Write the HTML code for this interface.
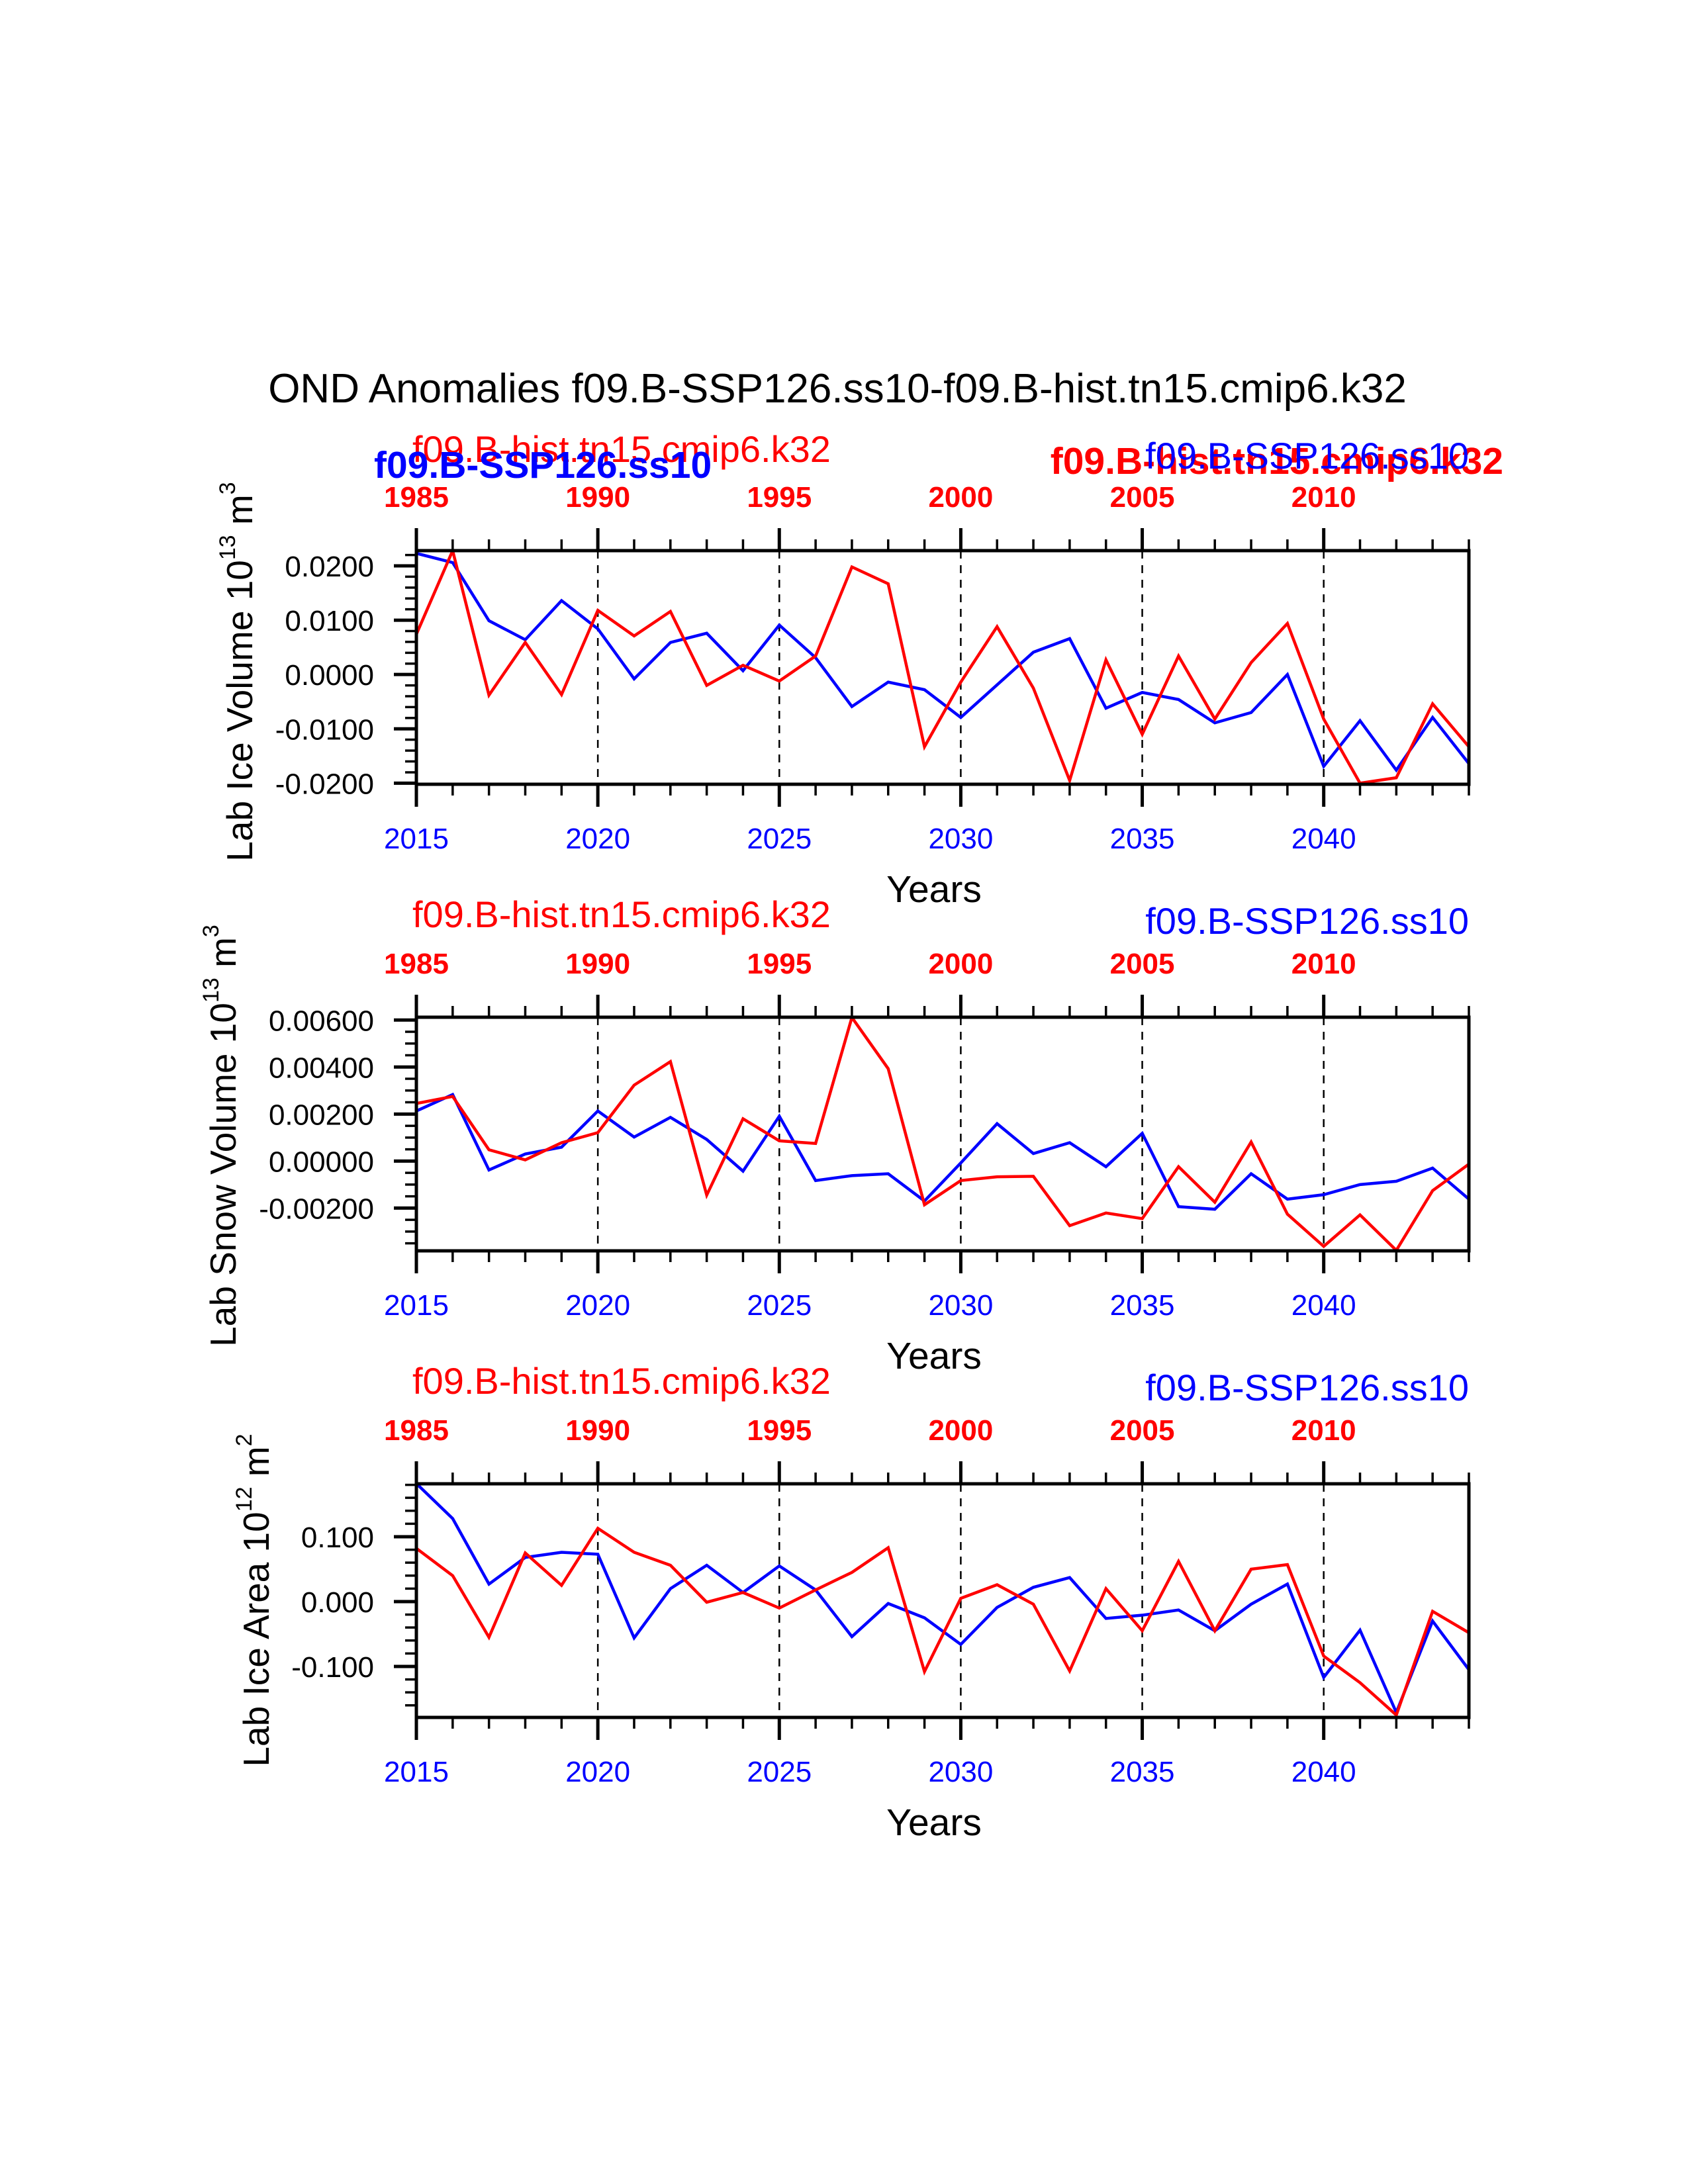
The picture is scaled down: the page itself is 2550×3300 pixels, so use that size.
<!DOCTYPE html>
<html><head><meta charset="utf-8"><style>
html,body{margin:0;padding:0;background:#fff}
svg{display:block;font-family:"Liberation Sans",sans-serif}
</style></head><body>
<svg id="chart" width="2550" height="3300" viewBox="0 0 2550 3300" xmlns="http://www.w3.org/2000/svg">
<text x="1265" y="608" font-size="62" text-anchor="middle">OND Anomalies f09.B-SSP126.ss10-f09.B-hist.tn15.cmip6.k32</text>
<text x="623" y="698" font-size="56" fill="#ff0000">f09.B-hist.tn15.cmip6.k32</text>
<text x="565" y="722" font-size="57" font-weight="bold" fill="#0000ff">f09.B-SSP126.ss10</text>
<text x="2271" y="716" font-size="57" font-weight="bold" fill="#ff0000" text-anchor="end">f09.B-hist.tn15.cmip6.k32</text>
<text x="2219" y="708" font-size="56" fill="#0000ff" text-anchor="end">f09.B-SSP126.ss10</text>
<g id="panels"></g>
</svg>
<script>
const years = [2015,2016,2017,2018,2019,2020,2021,2022,2023,2024,2025,2026,2027,2028,2029,2030,2031,2032,2033,2034,2035,2036,2037,2038,2039,2040,2041,2042,2043,2044];
const bottomTickLabels = ["2015","2020","2025","2030","2035","2040"];
const topTickLabels = ["1985","1990","1995","2000","2005","2010"];
const iceVolBlue = [0.0223,0.0206,0.0099,0.0064,0.0136,0.0084,-0.0008,0.0059,0.0076,0.0007,0.0091,0.0031,-0.0059,-0.0014,-0.0028,-0.0079,-0.0019,0.0041,0.0066,-0.0062,-0.0033,-0.0046,-0.0089,-0.0070,0.0000,-0.0169,-0.0085,-0.0176,-0.0079,-0.0164];
const iceVolRed = [0.0074,0.0228,-0.0038,0.0059,-0.0037,0.0118,0.0071,0.0116,-0.0020,0.0017,-0.0012,0.0034,0.0198,0.0167,-0.0133,-0.0014,0.0088,-0.0025,-0.0195,0.0027,-0.0110,0.0034,-0.0082,0.0022,0.0094,-0.0082,-0.0200,-0.0190,-0.0054,-0.0133];
const snowBlue = [0.00213,0.00283,-0.00038,0.0003,0.00059,0.00213,0.00102,0.00186,0.00092,-0.00043,0.00191,-0.00083,-0.00062,-0.00054,-0.0017,-0.00008,0.00159,0.00032,0.00078,-0.00024,0.00118,-0.00194,-0.00205,-0.00054,-0.00162,-0.00143,-0.001,-0.00086,-0.0003,-0.00162];
const snowRed = [0.00245,0.00275,0.00048,0.00005,0.00078,0.00121,0.00323,0.00423,-0.00145,0.0018,0.00086,0.00075,0.00611,0.00393,-0.00186,-0.00083,-0.00067,-0.00065,-0.00275,-0.00221,-0.00245,-0.00024,-0.00175,0.00081,-0.00226,-0.00363,-0.00229,-0.0038,-0.00126,-0.00013];
const areaBlue = [0.182,0.128,0.027,0.068,0.076,0.073,-0.056,0.020,0.056,0.014,0.055,0.018,-0.054,-0.003,-0.025,-0.066,-0.009,0.022,0.037,-0.026,-0.021,-0.013,-0.045,-0.004,0.027,-0.117,-0.044,-0.171,-0.030,-0.105];
const areaRed = [0.082,0.040,-0.055,0.075,0.025,0.113,0.076,0.056,-0.001,0.014,-0.010,0.018,0.045,0.083,-0.108,0.005,0.026,-0.004,-0.107,0.020,-0.045,0.062,-0.045,0.050,0.057,-0.084,-0.125,-0.175,-0.015,-0.048];
const iceVolTicks = [-0.02,-0.01,0,0.01,0.02];
const iceVolTickLabels = ["-0.0200","-0.0100","0.0000","0.0100","0.0200"];
const snowTicks = [-0.002,0,0.002,0.004,0.006];
const snowTickLabels = ["-0.00200","0.00000","0.00200","0.00400","0.00600"];
const areaTicks = [-0.1,0,0.1];
const areaTickLabels = ["-0.100","0.000","0.100"];

const NS="http://www.w3.org/2000/svg";
const root=document.getElementById('panels');
function mk(tag,attrs,parent){const e=document.createElementNS(NS,tag);for(const k in attrs)e.setAttribute(k,attrs[k]);(parent||root).appendChild(e);return e;}
const X0=629,X1=2219,H=353;
function xs(yr){return X0+(yr-2015)*(X1-X0)/29;}

const panels=[
 {top:832,ymin:-0.0202,ymax:0.0228,blue:iceVolBlue,red:iceVolRed,ticks:iceVolTicks,labels:iceVolTickLabels,minor:0.002,title:["Lab Ice Volume 10","13"," m","3"],tx:362,ty:1015,titles:false,key:'ice-volume'},
 {top:1537,ymin:-0.00382,ymax:0.00612,blue:snowBlue,red:snowRed,ticks:snowTicks,labels:snowTickLabels,minor:0.0005,title:["Lab Snow Volume 10","13"," m","3"],tx:337,ty:1716,titles:true,key:'snow-volume'},
 {top:2242,ymin:-0.1786,ymax:0.1816,blue:areaBlue,red:areaRed,ticks:areaTicks,labels:areaTickLabels,minor:0.02,title:["Lab Ice Area 10","12"," m","2"],tx:387,ty:2418,titles:true,key:'ice-area'}
];
panels.forEach((p,pi)=>{
 const g=mk('g',{});
 
 
 const top=p.top,bot=p.top+H;
 const ys=v=>bot-(v-p.ymin)/(p.ymax-p.ymin)*H;
 const cid='clip'+pi;
 const cp=mk('clipPath',{id:cid},g);mk('rect',{x:X0,y:top,width:X1-X0,height:H},cp);
 for(let yr=2020;yr<=2040;yr+=5){const l=mk('line',{x1:xs(yr),x2:xs(yr),y1:top,y2:bot,stroke:'#000','stroke-width':2.5,'stroke-dasharray':'12,10'},g);
  
  }
 for(let yr=2015;yr<=2044;yr++){const maj=(yr-2015)%5===0;const len=maj?34:17;const w=maj?5:3.5;
  mk('line',{x1:xs(yr),x2:xs(yr),y1:bot,y2:bot+len,stroke:'#000','stroke-width':w},g);
  mk('line',{x1:xs(yr),x2:xs(yr),y1:top,y2:top-len,stroke:'#000','stroke-width':w},g);}
 bottomTickLabels.forEach((s,i)=>{const t=mk('text',{x:xs(+s),y:bot+97,'font-size':44,fill:'#0000ff','text-anchor':'middle'},g);t.textContent=s;
  
  });
 topTickLabels.forEach((s,i)=>{const t=mk('text',{x:xs(2015+i*5),y:top-66,'font-size':44,'font-weight':'bold',fill:'#ff0000','text-anchor':'middle'},g);t.textContent=s;
  
  });
 const n0=Math.ceil(p.ymin/p.minor-1e-6),n1=Math.floor(p.ymax/p.minor+1e-6);
 for(let k=n0;k<=n1;k++){const v=k*p.minor;mk('line',{x1:X0,x2:X0-17,y1:ys(v),y2:ys(v),stroke:'#000','stroke-width':3.5},g);}
 p.ticks.forEach((v,i)=>{mk('line',{x1:X0,x2:X0-34,y1:ys(v),y2:ys(v),stroke:'#000','stroke-width':5},g);
  const t=mk('text',{x:565,y:ys(v)+16,'font-size':44,'text-anchor':'end'},g);t.textContent=p.labels[i];
  
  });
 [['blue','#0000ff'],['red','#ff0000']].forEach(([k,c])=>{const pts=p[k].map((v,i)=>xs(years[i])+','+ys(v)).join(' ');
  const pl=mk('polyline',{points:pts,fill:'none',stroke:c,'stroke-width':4.5,'stroke-linejoin':'miter','clip-path':'url(#'+cid+')'},g);
  
  });
 const bx=mk('rect',{x:X0,y:top,width:X1-X0,height:H,fill:'none',stroke:'#000','stroke-width':5},g);
 
 
 const yt=mk('text',{x:1411,y:bot+178,'font-size':57,'text-anchor':'middle'},g);yt.textContent='Years';
 
 
 const tt=mk('text',{x:p.tx+19,y:p.ty,'font-size':55,'text-anchor':'middle',transform:'rotate(-90 '+(p.tx+19)+' '+p.ty+')'},g);
 
 
 p.title.forEach((s,i)=>{const sp=mk('tspan',i%2?{'font-size':34,dy:-26}:(i?{dy:26}:{}),tt);sp.textContent=s;});
 if(p.titles){
  const r=mk('text',{x:623,y:top-136,'font-size':56,fill:'#ff0000'},g);r.textContent='f09.B-hist.tn15.cmip6.k32';
  
  
  const b=mk('text',{x:2219,y:top-126,'font-size':56,fill:'#0000ff','text-anchor':'end'},g);b.textContent='f09.B-SSP126.ss10';
  
  
 }
});
</script>
</body></html>
